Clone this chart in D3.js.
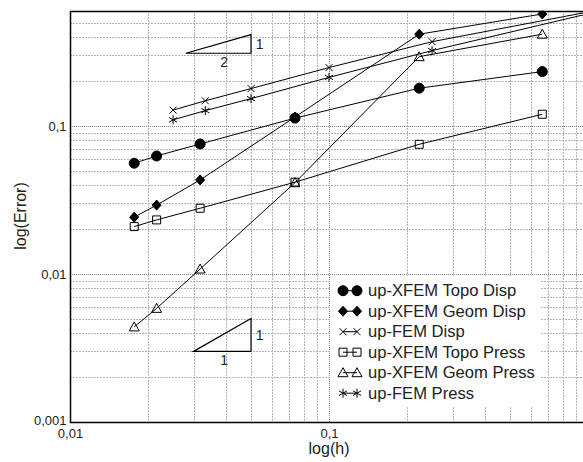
<!DOCTYPE html>
<meta charset="utf-8">
<style>
body { margin: 0; background: #fff; }
svg { display: block; font-family: 'Liberation Sans', Arial, sans-serif; }
.grid line { shape-rendering: crispEdges; }
.grid .minor { stroke: #b4b4b4; stroke-dasharray: 2,1; }
.grid .major { stroke: #808080; stroke-dasharray: 1,1; }
.series { fill: none; stroke: #000; stroke-width: 1; }
.axis .domain, .axis line { display: none; }
.axis text { font-size: 13px; fill: #222; }
</style>
<body>
<div id="chart"></div>
<script src="https://d3js.org/d3.v7.min.js"></script>
<script>
// h values of the meshes
var hXfem = [0.0177, 0.0216, 0.0318, 0.0739, 0.223, 0.666];
var hFem  = [0.025, 0.0333, 0.05, 0.1, 0.25, 1.0];

// errors
var topoDisp  = [0.056, 0.0627, 0.0756, 0.113, 0.180, 0.233];
var geomDisp  = [0.0242, 0.0292, 0.0432, 0.115, 0.417, 0.571];
var femDisp   = [0.128, 0.148, 0.179, 0.248, 0.371, 0.589];
var topoPress = [0.0209, 0.0232, 0.0278, 0.0417, 0.0752, 0.120];
var geomPress = [0.00439, 0.00586, 0.0108, 0.0414, 0.294, 0.417];
var femPress  = [0.110, 0.127, 0.153, 0.213, 0.323, 0.573];

var seriesNames = ["up-XFEM Topo Disp", "up-XFEM Geom Disp", "up-FEM Disp",
                   "up-XFEM Topo Press", "up-XFEM Geom Press", "up-FEM Press"];
var seriesMarks = ["circle", "diamond", "x", "square", "triangle", "star"];

var xTickValues = [0.01, 0.1];
var xTickLabels = ["0,01", "0,1"];
var yTickValues = [0.001, 0.01, 0.1];
var yTickLabels = ["0,001", "0,01", "0,1"];

// slope indicator triangles [x0, x1, y0, y1, run label, rise label]
var slope1 = [0.028, 0.05, 0.31, 0.414, "2", "1"];
var slope2 = [0.03, 0.05, 0.003, 0.005, "1", "1"];

var width = 583, height = 462;

var x = d3.scaleLog().domain([0.01, 1]).range([70, 588]);
var y = d3.scaleLog().domain([0.001, 0.6]).range([422, 10.8]);

var svg = d3.select("#chart").append("svg")
    .attr("width", width)
    .attr("height", height);

svg.append("clipPath").attr("id", "clip")
  .append("rect")
    .attr("x", 70).attr("y", y(0.6))
    .attr("width", width - 70).attr("height", 422 - y(0.6));

var plot = svg.append("g").attr("clip-path", "url(#clip)");

// grid
var xGrid = [], yGrid = [];
[0.01, 0.1].forEach(function(d) { for (var k = 1; k < 10; k++) xGrid.push(d * k); });
xGrid.push(1);
[0.001, 0.01, 0.1].forEach(function(d) { for (var k = 1; k < 10; k++) if (d * k <= 0.6) yGrid.push(d * k); });

function isMajor(v) { return Math.abs(Math.log10(v) - Math.round(Math.log10(v))) < 1e-6; }

var grid = plot.append("g").attr("class", "grid");
grid.selectAll("line.v").data(xGrid.slice(1)).enter().append("line")
    .attr("class", function(d) { return isMajor(d) ? "major" : "minor"; })
    .attr("x1", function(d) { return Math.round(x(d)) + 0.5; })
    .attr("x2", function(d) { return Math.round(x(d)) + 0.5; })
    .attr("y1", y(0.6)).attr("y2", 422);
grid.selectAll("line.h").data(yGrid.slice(1)).enter().append("line")
    .attr("class", function(d) { return isMajor(d) ? "major" : "minor"; })
    .attr("y1", function(d) { return Math.round(y(d)) + 0.5; })
    .attr("y2", function(d) { return Math.round(y(d)) + 0.5; })
    .attr("x1", 70).attr("x2", width);

// slope triangles
[slope1, slope2].forEach(function(s) {
  var x0 = x(s[0]), x1 = x(s[1]), y0 = y(s[2]), y1 = y(s[3]);
  svg.append("path")
      .attr("d", "M" + x0 + "," + y0 + "L" + x1 + "," + y1 + "L" + x1 + "," + y0 + "Z")
      .attr("fill", "none").attr("stroke", "#000").attr("stroke-width", 1.2);
  svg.append("text").attr("x", x1 + 8.5).attr("y", (y0 + y1) / 2 + 5)
      .attr("text-anchor", "middle").attr("font-size", 14).attr("fill", "#222").text(s[5]);
  svg.append("text").attr("x", x1 - 27).attr("y", y0 + 14)
      .attr("text-anchor", "middle").attr("font-size", 14).attr("fill", "#222").text(s[4]);
});

function symbolPath(type) {
  switch (type) {
    case "circle": return "M5,0A5,5 0 1,1 -5,0A5,5 0 1,1 5,0Z";
    case "diamond": return "M0,-5L4.5,0L0,5L-4.5,0Z";
    case "x": return "M-3.5,-3.5L3.5,3.5M-3.5,3.5L3.5,-3.5";
    case "square": return "M-4,-4H4V4H-4Z";
    case "triangle": return "M0,-5L5,4L-5,4Z";
    case "star": return "M0,-4.5V4.5M-4,-2.3L4,2.3M-4,2.3L4,-2.3";
  }
}
function symbolFill(type) { return (type === "circle" || type === "diamond") ? "#000" : "none"; }

var series = [
  {h: hXfem, e: topoDisp},
  {h: hXfem, e: geomDisp},
  {h: hFem,  e: femDisp},
  {h: hXfem, e: topoPress},
  {h: hXfem, e: geomPress},
  {h: hFem,  e: femPress}
];

var line = d3.line()
    .x(function(d) { return x(d[0]); })
    .y(function(d) { return y(d[1]); });

series.forEach(function(s, i) {
  var pts = s.h.map(function(h, j) { return [h, s.e[j]]; });
  plot.append("path").datum(pts).attr("class", "series").attr("d", line);
  plot.selectAll(null).data(pts).enter().append("path")
      .attr("transform", function(d) { return "translate(" + x(d[0]) + "," + y(d[1]) + ")"; })
      .attr("d", symbolPath(seriesMarks[i]))
      .attr("fill", symbolFill(seriesMarks[i]))
      .attr("stroke", "#000").attr("stroke-width", 1);
});

// frame
svg.append("path")
    .attr("d", "M" + width + "," + (Math.round(y(0.6)) + 0.5) + "H70.5V422.5H" + width)
    .attr("fill", "none").attr("stroke", "#000").attr("stroke-width", 1.5);

// axes labels
var fmtX = function(d) { return xTickLabels[xTickValues.indexOf(d)]; };
var fmtY = function(d) { return yTickLabels[yTickValues.indexOf(d)]; };

svg.append("g").attr("class", "axis")
    .attr("transform", "translate(0,422)")
    .call(d3.axisBottom(x).tickValues(xTickValues).tickFormat(fmtX).tickSize(0).tickPadding(7));
svg.append("g").attr("class", "axis")
    .attr("transform", "translate(70,0)")
    .call(d3.axisLeft(y).tickValues(yTickValues).tickFormat(fmtY).tickSize(0).tickPadding(3.5));
svg.selectAll(".axis text").attr("font-family", null).attr("font-size", null);
// nudge the lowest y label up a touch so it clears the first x label
svg.selectAll(".axis text").filter(function(d) { return d === 0.001; }).attr("dy", "0.2em");

svg.append("text")
    .attr("x", 329).attr("y", 454)
    .attr("text-anchor", "middle").attr("font-size", 16).attr("fill", "#222")
    .text("log(h)");
svg.append("text")
    .attr("transform", "translate(26,216) rotate(-90)")
    .attr("text-anchor", "middle").attr("font-size", 16).attr("fill", "#222")
    .text("log(Error)");

// legend
var legend = svg.append("g");
legend.append("rect")
    .attr("x", 331).attr("y", 276).attr("width", 210).attr("height", 131)
    .attr("fill", "#fff");
var rows = legend.selectAll("g.row").data(seriesNames).enter().append("g")
    .attr("transform", function(d, i) { return "translate(0," + (290.7 + i * 20.5) + ")"; });
rows.append("line").attr("x1", 343).attr("x2", 357).attr("stroke", "#000");
rows.each(function(d, i) {
  var g = d3.select(this);
  [343, 357].forEach(function(cx) {
    g.append("path").attr("transform", "translate(" + cx + ",0)")
        .attr("d", symbolPath(seriesMarks[i]))
        .attr("fill", symbolFill(seriesMarks[i]))
        .attr("stroke", "#000");
  });
});
rows.append("text").attr("x", 368).attr("y", 5.5)
    .attr("font-size", 16.6).attr("fill", "#222")
    .text(function(d) { return d; });
</script>
</body>
